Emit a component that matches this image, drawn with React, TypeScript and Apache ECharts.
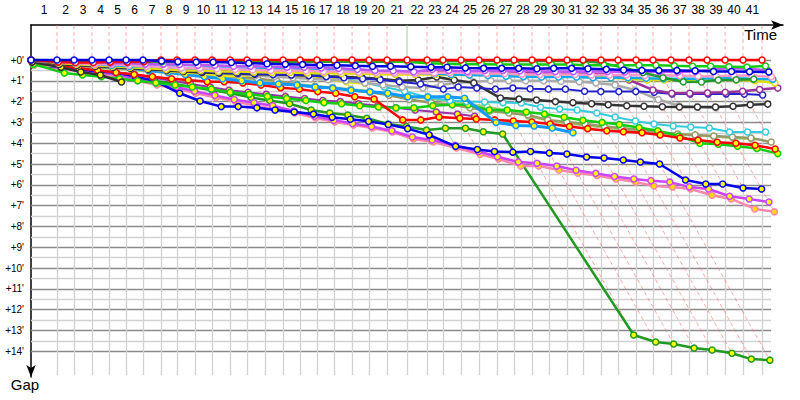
import React, { useEffect, useRef } from "react";
import * as echarts from "echarts";

// Leader's passage time (minutes) at the end of each lap 0..41
const lapTimes = [0, 2.22, 3.68, 5.21, 6.67, 8.12, 9.57, 11.11, 12.48, 14.02, 15.47, 17.01, 18.46, 20.0, 21.54, 22.99, 24.44, 25.9, 27.44, 28.89, 30.43, 32.14, 33.85, 35.21, 36.75, 38.29, 39.83, 41.28, 42.82, 44.27, 45.81, 47.18, 48.72, 50.17, 51.71, 53.16, 54.7, 56.24, 57.78, 59.32, 60.85, 62.48];
const lapLabels = Array.from({ length: 41 }, (_, i) => String(i + 1));
const gapTicks = [0, 1, 2, 3, 4, 5, 6, 7, 8, 9, 10, 11, 12, 13, 14];
const specialLap = 21;

// gaps (minutes) per lap, lap 0 first
const redW = [0, 0.1, 0.12, 0.12, 0.1, 0.1, 0.08, 0, 0, 0, 0, 0, 0, 0, 0, 0, 0, 0, 0, 0, 0, 0, 0, 0, 0, 0, 0, 0, 0, 0, 0, 0, 0, 0, 0, 0, 0, 0, 0, 0, 0, 0];
const blueW = [0, 0, 0, 0, 0, 0, 0, 0.05, 0.08, 0.1, 0.1, 0.12, 0.15, 0.18, 0.2, 0.22, 0.25, 0.25, 0.28, 0.3, 0.3, 0.32, 0.35, 0.35, 0.38, 0.4, 0.4, 0.4, 0.42, 0.4, 0.4, 0.42, 0.45, 0.48, 0.5, 0.5, 0.5, 0.52, 0.55, 0.55, 0.56, 0.58];
const greenW = [0, 0.03, 0.03, 0.03, 0.03, 0.03, 0.03, 0.03, 0.03, 0.03, 0.03, 0.03, 0.03, 0.02, 0.02, 0.02, 0.02, 0.03, 0.03, 0.02, 0.03, 0.1, 0.15, 0.18, 0.2, 0.2, 0.22, 0.22, 0.22, 0.22, 0.22, 0.25, 0.25, 0.25, 0.25, 0.25, 0.28, 0.3, 0.3, 0.32, 0.34, 0.29];
const dkgreenW = [0, 0.08, 0.08, 0.08, 0.08, 0.08, 0.08, 0.08, 0.08, 0.08, 0.08, 0.08, 0.08, 0.08, 0.08, 0.08, 0.08, 0.08, 0.08, 0.08, 0.08, 0.05, 0.05, 0.05, 0.05, 0.05, 0.05, 0.05, 0.05, 0.05, 0.05, 0.05, 0.15, 0.35, 0.6, 0.85, 1.05, 1.06, 0.96, 0.95, 0.92];
const violetW = [0, 0.1, 0.1, 0.12, 0.15, 0.15, 0.2, 0.2, 0.22, 0.25, 0.25, 0.3, 0.3, 0.32, 0.35, 0.35, 0.38, 0.4, 0.45, 0.5, 0.52, 0.57, 0.45, 0.5, 0.55, 0.5, 0.5, 0.52, 0.55, 0.55, 0.55, 0.55, 0.55, 0.58, 0.58, 0.55, 0.58, 0.55, 0.45, 0.4, 0.42, 0.5];
const pinkW = [0, 0.1, 0.15, 0.2, 0.2, 0.25, 0.3, 0.35, 0.38, 0.4, 0.42, 0.45, 0.48, 0.5, 0.5, 0.52, 0.55, 0.55, 0.58, 0.6, 0.62, 0.65, 0.62, 0.6, 0.62, 0.65, 0.65, 0.68, 0.7, 0.7, 0.7, 0.72, 0.72, 0.72, 0.75, 0.75, 0.75, 0.78, 0.78, 0.75, 0.75, 0.8];
const skyblueW = [0, 0.1, 0.15, 0.2, 0.25, 0.3, 0.3, 0.35, 0.38, 0.4, 0.4, 0.42, 0.42, 0.45, 0.45, 0.45, 0.48, 0.5, 0.5, 0.55, 0.6, 0.62, 0.65, 0.7, 0.72, 0.75, 0.78, 0.8, 0.82, 0.82, 0.82, 0.85, 0.85, 0.85, 0.88, 0.9, 0.9, 0.9, 0.88, 0.88, 0.9, 0.92];
const yellowW = [0, 0.15, 0.2, 0.25, 0.3, 0.35, 0.4, 0.45, 0.5, 0.5, 0.55, 0.55, 0.58, 0.6, 0.6, 0.62, 0.62, 0.65, 0.65, 0.68, 0.7, 0.7, 0.7, 0.72, 0.72, 0.72, 0.75, 0.75, 0.78, 0.8, 0.8, 0.82, 0.85, 0.9, 0.96, 0.96, 0.96, 0.96, 0.96, 0.96, 1.0, 1.1];
const purpleW = [0, 0.15, 0.2, 0.25, 0.3, 0.35, 0.4, 0.45, 0.5, 0.5, 0.5, 0.52, 0.55, 0.55, 0.58, 0.6, 0.6, 0.6, 0.62, 0.62, 0.62, 0.6, 0.6, 0.58, 0.6, 0.6, 0.6, 0.62, 0.62, 0.65, 0.65, 0.65, 0.7, 0.96, 1.44, 1.6, 1.6, 1.58, 1.55, 1.5, 1.42, 1.35];
const navyW = [0, 0.15, 0.2, 0.25, 0.3, 0.35, 0.4, 0.45, 0.5, 0.55, 0.6, 0.62, 0.65, 0.7, 0.72, 0.75, 0.8, 0.85, 0.9, 0.95, 1.05, 1.15, 1.4, 1.3, 1.35, 1.4, 1.35, 1.38, 1.4, 1.4, 1.5, 1.52, 1.52, 1.52, 1.55, 1.63, 1.63, 1.63, 1.63, 1.64, 1.68];
const blackW = [0, 0.2, 0.25, 0.3, 0.35, 0.4, 0.45, 0.5, 0.55, 0.6, 0.62, 0.65, 0.68, 0.7, 0.72, 0.75, 0.78, 0.8, 0.85, 0.9, 1.0, 0.96, 0.82, 0.96, 1.1, 1.83, 1.88, 1.92, 2.0, 2.05, 2.1, 2.15, 2.2, 2.22, 2.25, 2.26, 2.26, 2.26, 2.22, 2.15, 2.12];
const grayW = [0, 0.2, 0.25, 0.3, 0.35, 0.4, 0.45, 0.5, 0.55, 0.6, 0.65, 0.7, 0.75, 0.8, 0.85, 0.9, 0.95, 1.0, 1.1, 1.2, 1.3, 1.35, 1.2, 1.1, 1.05, 1.0, 1.0, 1.0, 1.0, 1.02, 1.05, 1.1, 1.2, 1.44, 1.9, 2.2, 2.26, 2.3];
const cyanW = [0, 0.1, 0.12, 0.15, 0.18, 0.2, 0.22, 0.25, 0.25, 0.28, 0.3, 0.3, 0.3, 0.35, 0.45, 0.6, 0.75, 0.9, 1.1, 1.3, 1.5, 1.8, 1.95, 2.0, 2.02, 2.05, 2.07, 2.27, 2.36, 2.4, 2.55, 2.74, 2.93, 3.08, 3.17, 3.22, 3.27, 3.46, 3.46, 3.46];
const oliveW = [0.2, 0.25, 0.3, 0.32, 0.38, 0.42, 0.5, 0.55, 0.62, 0.68, 0.75, 0.82, 0.9, 1.0, 1.2, 1.28, 1.35, 1.45, 1.55, 1.7, 1.9, 2.05, 2.15, 2.3, 2.45, 2.55, 2.64, 2.88, 2.98, 3.08, 3.2, 3.27, 3.37, 3.46, 3.56, 3.6, 3.65, 3.7, 3.75, 3.94];
const lightoliveW = [0.25, 0.3, 0.35, 0.4, 0.42, 0.48, 0.55, 0.6, 0.65, 0.72, 0.8, 0.88, 0.95, 1.05, 1.15, 1.25, 1.32, 1.4, 1.5, 1.62, 1.75, 1.85, 2.0, 2.1, 2.25, 2.45, 2.7, 2.9, 3.05, 3.15, 3.25, 3.35, 3.45, 3.5, 3.58, 3.62, 3.68, 3.75, 3.8];
const lightblueY = [0, 0.15, 0.2, 0.3, 0.35, 0.4, 0.5, 0.6, 0.7, 0.8, 0.9, 1.0, 1.1, 1.15, 1.2, 1.3, 1.35, 1.45, 1.53, 1.6, 1.77, 1.77, 1.77, 1.84, 3.0, 3.15, 3.17, 3.27, 3.5];
const yellowY = [0, 0.1, 0.15, 0.2, 0.25, 0.3, 0.4, 0.5, 0.58, 0.63, 0.72, 0.75, 0.7, 0.72, 0.8, 0.86, 0.9, 1.05, 1.1];
const blackY = [0.1, 0.35, 0.58, 0.72, 1.06];
const purpleY = [0.2, 0.3, 0.4, 0.5, 0.6, 0.7, 0.85, 1.0, 1.15, 1.3, 1.45, 1.55, 1.65, 1.75, 1.85, 1.95, 2.0, 2.1, 2.2, 2.3, 2.4, 2.5, 2.6, 2.7];
const redY = [0.1, 0.3, 0.4, 0.5, 0.6, 0.7, 0.8, 0.9, 0.96, 1.04, 1.04, 1.1, 1.2, 1.33, 1.4, 1.52, 1.6, 1.77, 1.88, 2.88, 2.88, 2.74, 2.8, 2.84, 2.88, 2.93, 2.98, 3.08, 3.2, 3.3, 3.4, 3.45, 3.5, 3.6, 3.75, 3.85, 3.95, 4.0, 4.1, 4.28];
const greenY = [0.2, 0.63, 0.72, 0.8, 0.9, 1.0, 1.1, 1.2, 1.3, 1.4, 1.55, 1.65, 1.75, 1.85, 1.95, 2.05, 2.1, 2.2, 2.26, 2.3, 2.3, 2.2, 2.15, 2.15, 2.4, 2.4, 2.5, 2.6, 2.75, 2.9, 3.0, 3.1, 3.25, 3.4, 3.65, 4.0, 4.05, 4.15, 4.25, 4.5];
const dkgreenY = [0.2, 0.4, 0.5, 0.6, 0.75, 0.9, 1.0, 1.15, 1.3, 1.45, 1.6, 1.8, 1.95, 2.1, 2.4, 2.55, 2.64, 2.8, 3.08, 3.2, 3.37, 3.28, 3.28, 3.45, 3.56, 13.22, 13.56, 13.65, 13.85, 13.94, 14.1, 14.38, 14.43];
const blueY = [0.2, 0.35, 0.45, 0.55, 0.6, 0.8, 1.0, 1.6, 1.97, 2.24, 2.24, 2.3, 2.4, 2.5, 2.6, 2.75, 2.85, 2.95, 3.1, 3.3, 3.6, 4.15, 4.3, 4.4, 4.43, 4.4, 4.47, 4.52, 4.66, 4.71, 4.81, 4.9, 5.0, 5.77, 5.96, 5.96, 6.15, 6.2];
const violetY = [0.2, 0.4, 0.5, 0.6, 0.7, 0.9, 1.1, 1.3, 1.5, 1.7, 1.9, 2.05, 2.2, 2.45, 2.7, 2.9, 3.05, 3.2, 3.4, 3.7, 3.85, 4.1, 4.4, 4.65, 4.9, 4.96, 5.1, 5.3, 5.45, 5.6, 5.72, 5.8, 5.87, 6.1, 6.2, 6.55, 6.68, 6.83];
const pinkY = [0.25, 0.45, 0.55, 0.65, 0.8, 1.0, 1.2, 1.4, 1.6, 1.8, 2.0, 2.2, 2.35, 2.55, 2.79, 2.98, 3.13, 3.27, 3.46, 3.8, 3.94, 4.23, 4.53, 4.76, 5.1, 5.1, 5.29, 5.43, 5.55, 5.72, 5.87, 6.06, 6.1, 6.2, 6.5, 6.68, 7.16, 7.3];

const WHITE = "#ffffff";
const YEL = "#ffff00";
const riders = [
  { gaps: dkgreenY, color: "#229922", fill: YEL, width: 2.5 },
  { gaps: pinkY, color: "#ff88aa", fill: "#ffdd00", width: 2.5 },
  { gaps: violetY, color: "#cc44ff", fill: YEL, width: 2.5 },
  { gaps: blueY, color: "#0000ee", fill: YEL, width: 2.5 },
  { gaps: purpleY, color: "#9933aa", fill: YEL, width: 2 },
  { gaps: lightoliveW, color: "#aacc77", fill: WHITE, width: 2.5 },
  { gaps: oliveW, color: "#999966", fill: WHITE, width: 2.5 },
  { gaps: greenY, color: "#11cc11", fill: YEL, width: 2.5 },
  { gaps: redY, color: "#ff0000", fill: YEL, width: 2.5 },
  { gaps: cyanW, color: "#33ccdd", fill: WHITE, width: 2 },
  { gaps: lightblueY, color: "#1199ff", fill: YEL, width: 3 },
  { gaps: blackY, color: "#333333", fill: YEL, width: 2.5 },
  { gaps: yellowY, color: "#eeee00", fill: YEL, width: 3.5 },
  { gaps: grayW, color: "#aaaaaa", fill: WHITE, width: 2.5 },
  { gaps: blackW, color: "#333333", fill: WHITE, width: 2.5 },
  { gaps: navyW, color: "#2222cc", fill: WHITE, width: 2 },
  { gaps: purpleW, color: "#993399", fill: WHITE, width: 2.5 },
  { gaps: yellowW, color: "#dddd00", fill: WHITE, width: 2.5 },
  { gaps: skyblueW, color: "#11aaee", fill: WHITE, width: 2.5 },
  { gaps: pinkW, color: "#ff99cc", fill: WHITE, width: 2.5 },
  { gaps: violetW, color: "#bb55ff", fill: WHITE, width: 2.5 },
  { gaps: dkgreenW, color: "#229933", fill: WHITE, width: 2.5 },
  { gaps: greenW, color: "#11cc11", fill: WHITE, width: 2.5 },
  { gaps: redW, color: "#ff0000", fill: WHITE, width: 2.5 },
  { gaps: blueW, color: "#0000dd", fill: WHITE, width: 2.5 },
];

const YMIN = -1.683;
const YMAX = 15.24;
const XMAX = 64.27;
const XGRID_END = 63.25;
const FONT = "Liberation Sans";

export default function App() {
  const ref = useRef<HTMLDivElement>(null);
  useEffect(() => {
    if (!ref.current) return;
    const chart = echarts.init(ref.current, undefined, { renderer: "svg" });

    const mids = lapLabels.map((_, i) => (lapTimes[i] + lapTimes[i + 1]) / 2);

    const series: any[] = [];

    // riders first
    riders.forEach((r, i) => {
      series.push({
        type: "line",
        data: r.gaps.map((g, k) => [lapTimes[k] + g, g]),
        symbol: "circle",
        symbolSize: 6,
        silent: true,
        z: 10 + i,
        lineStyle: { color: r.color, width: r.width, type: "solid" },
        itemStyle: { color: r.fill, borderColor: r.color, borderWidth: 1.5 },
      });
    });

    // lap lines: vertical to the leader, then along the equal-lap diagonal to the last rider
    for (let k = 1; k < lapTimes.length; k++) {
      let maxGap = 0;
      riders.forEach((r) => {
        if (r.gaps.length > k && r.gaps[k] > maxGap) maxGap = r.gaps[k];
      });
      series.push({
        type: "line",
        data: [
          [lapTimes[k], YMIN],
          [lapTimes[k], 0],
          [lapTimes[k] + maxGap, maxGap],
        ],
        symbol: "none",
        silent: true,
        z: 5,
        lineStyle: {
          color: k === specialLap ? "rgba(120,210,120,0.8)" : "rgba(255,110,110,0.6)",
          width: 1,
          type: k === specialLap ? "solid" : [4, 3],
        },
      });
    }

    // grid lines
    const gridLines: any[] = [];
    for (let g = 0; g <= 14; g += 0.5) {
      const major = Math.abs(g - Math.round(g)) < 1e-6;
      gridLines.push([
        { coord: [0, g], lineStyle: { color: major ? "#8a8a8a" : "#d2d2d2", width: 1.3, type: "solid" } },
        { coord: [XGRID_END, g] },
      ]);
    }
    for (let k = 1; k < lapTimes.length; k++) {
      gridLines.push([
        { coord: [lapTimes[k], 0], lineStyle: { color: "#d2d2d2", width: 1.3, type: "solid" } },
        { coord: [lapTimes[k], YMAX - 0.1] },
      ]);
    }
    series.push({
      type: "line",
      data: [[0, 0]],
      symbol: "none",
      lineStyle: { opacity: 0 },
      silent: true,
      z: 1,
      markLine: { symbol: "none", silent: true, animation: false, label: { show: false }, data: gridLines },
    });

    chart.setOption({
      animation: false,
      backgroundColor: "#ffffff",
      textStyle: { fontFamily: FONT },
      grid: { left: 31, top: 25, right: 17, bottom: 23, containLabel: false },
      xAxis: {
        type: "value",
        position: "top",
        min: 0,
        max: XMAX,
        name: "Time",
        nameLocation: "end",
        nameGap: -6,
        nameTextStyle: { fontSize: 15, color: "#000", fontFamily: FONT, align: "right", verticalAlign: "top", padding: [2, 0, 0, 0] },
        axisLine: { onZero: false, lineStyle: { color: "#000", width: 1.5 }, symbol: ["none", "arrow"], symbolSize: [7, 12] },
        axisTick: { show: false },
        splitLine: { show: false },
        axisLabel: {
          customValues: mids,
          margin: 9,
          fontSize: 12,
          color: "#000",
          fontFamily: FONT,
          formatter: (v: number) => {
            let best = 0;
            let bd = Infinity;
            mids.forEach((m, i) => {
              const d = Math.abs(m - v);
              if (d < bd) { bd = d; best = i; }
            });
            return lapLabels[best];
          },
        },
      },
      yAxis: {
        type: "value",
        inverse: true,
        min: YMIN,
        max: YMAX,
        name: "Gap",
        nameLocation: "end",
        nameGap: 0,
        nameTextStyle: { fontSize: 15, color: "#000", fontFamily: FONT, align: "center", verticalAlign: "top", padding: [0, 12, 0, 0] },
        axisLine: { onZero: false, lineStyle: { color: "#000", width: 1.5 }, symbol: ["arrow", "none"], symbolSize: [7, 12] },
        axisTick: { show: false },
        splitLine: { show: false },
        axisLabel: {
          customValues: gapTicks,
          margin: 7,
          fontSize: 10,
          color: "#000",
          fontFamily: FONT,
          formatter: (v: number) => `+${Math.round(v)}'`,
        },
      },
      series,
    });
    return () => chart.dispose();
  }, []);
  return <div ref={ref} style={{ position: "fixed", left: 0, top: 0, width: 800, height: 400 }} />;
}
